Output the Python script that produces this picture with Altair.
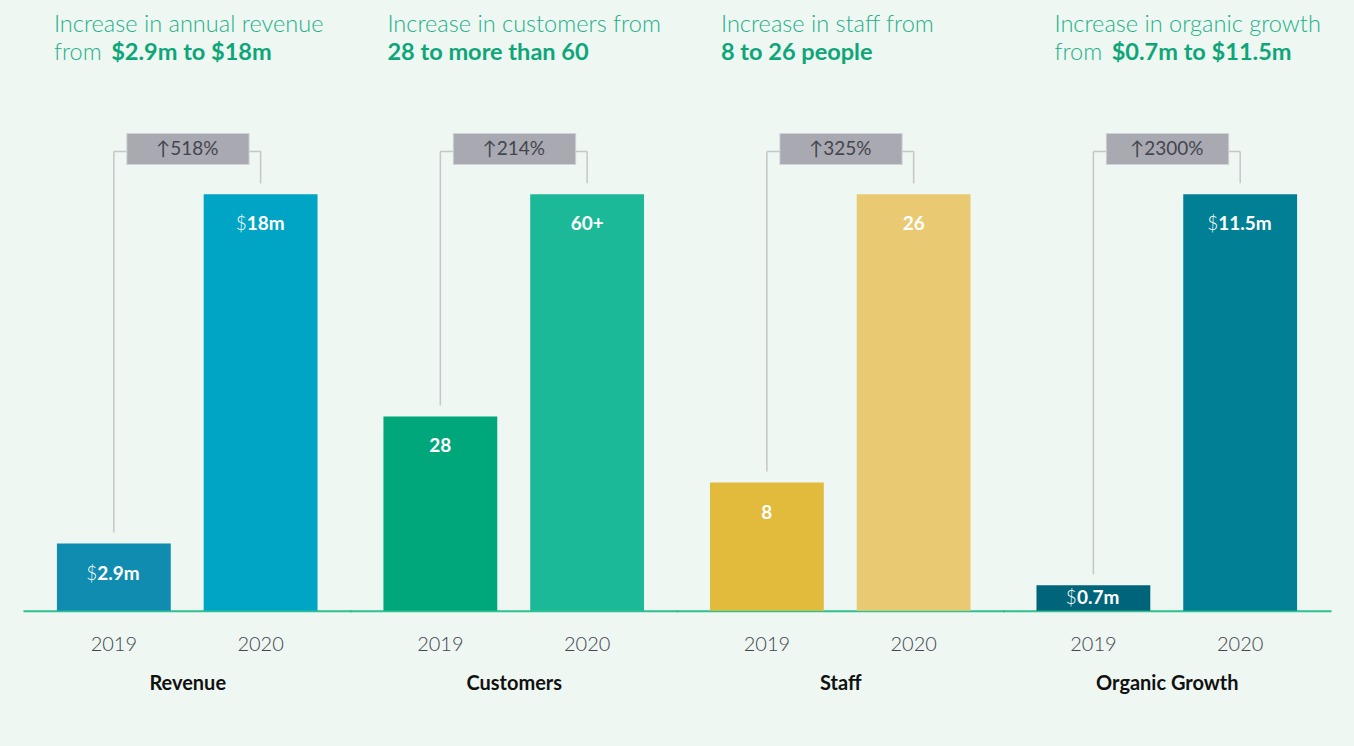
import altair as alt
import pandas as pd

# ---- data -------------------------------------------------------------
groups = ["Revenue", "Customers", "Staff", "Organic Growth"]
years = ["2019", "2020"]
values_2019 = [2.9, 28, 8, 0.7]
values_2020 = [18, 60, 26, 11.5]
value_prefix = ["$", "", "", "$"]
labels_2019 = ["2.9m", "28", "8", "0.7m"]
labels_2020 = ["18m", "60+", "26", "11.5m"]
changes = ["↑518%", "↑214%", "↑325%", "↑2300%"]
headline_top = [
    "Increase in annual revenue",
    "Increase in customers from",
    "Increase in staff from",
    "Increase in organic growth",
]
headline_lead = ["from", "", "", "from"]
headline_bold = ["$2.9m to $18m", "28 to more than 60", "8 to 26 people", "$0.7m to $11.5m"]

# ---- styling ----------------------------------------------------------
palettes = [
    ["#0f8caf", "#00a4c4"],
    ["#00a77b", "#1bb998"],
    ["#e2bb3c", "#e9ca72"],
    ["#00657b", "#007f95"],
]
FONT = "Lato"
BG = "#eef7f2"
GREEN_TEXT = "#25b089"
GREEN_BOLD = "#0ea679"
BRACKET = "#c6c6c8"
BOX = "#a9a9b1"
BOX_EDGE = "#d2d2d6"
PANEL_W = 327
PLOT_H = 542
Y_MAX = 1.3
HEAD_SIZE = 23.6

# rough glyph advance widths (em) used to centre mixed-weight value labels
ADV = {".": 0.27, "m": 0.87, "+": 0.58, "$": 0.56}


def text_width(s, size):
    return sum(ADV.get(c, 0.58) for c in s) * size


def panel(i):
    df = pd.DataFrame({
        "year": years,
        "value": [values_2019[i], values_2020[i]],
        "prefix": [value_prefix[i]] * 2,
        "label": [labels_2019[i], labels_2020[i]],
    })
    base = (
        alt.Chart(df)
        .transform_joinaggregate(peak="max(value)")
        .transform_calculate(norm="datum.value / datum.peak")
        .transform_joinaggregate(top="max(norm)")
        .transform_calculate(label_y="max(datum.norm - 0.072, datum.norm / 2)")
    )
    xscale = alt.Scale(domain=years, paddingInner=0.2245, paddingOuter=0.2245)
    yscale = alt.Scale(domain=[0, Y_MAX])
    x_axis = alt.Axis(
        title=groups[i], titleFont=FONT, titleFontSize=20, titleFontWeight="bold",
        titleColor="#111111", titlePadding=19,
        labelFont=FONT, labelFontSize=20, labelFontWeight=300, labelColor="#45454f",
        labelPadding=24, labelAngle=0, ticks=False, grid=False,
        domainColor="#2ec08f", domainWidth=2, domainCap="square",
    )
    x = alt.X("year:N")
    y_norm = alt.Y("norm:Q", axis=None)
    y_top = alt.Y("top:Q", axis=None)

    bars = base.mark_bar().encode(
        x=alt.X("year:N", scale=xscale, axis=x_axis),
        y=alt.Y("norm:Q", scale=yscale, axis=None),
        color=alt.Color("year:N", scale=alt.Scale(domain=years, range=palettes[i]), legend=None),
    )

    # bracket: two risers and a cross-bar carrying the change label box
    risers = base.mark_rule(color=BRACKET, strokeWidth=1.5, yOffset=-11, y2Offset=-43).encode(
        x=x, y=y_norm, y2="top:Q",
    )
    first = base.transform_filter(alt.datum.year == years[0]).transform_calculate(
        next_year=f"'{years[1]}'", change=f"'{changes[i]}'"
    )
    crossbar = first.mark_rule(color=BRACKET, strokeWidth=1.5, yOffset=-43).encode(
        x=x, x2="next_year:N", y=y_top,
    )
    box_edge = first.mark_rule(color=BOX_EDGE, strokeWidth=32, strokeCap="butt",
                               xOffset=12.5, x2Offset=-11, yOffset=-45.5).encode(
        x=x, x2="next_year:N", y=y_top,
    )
    box = first.mark_rule(color=BOX, strokeWidth=30, strokeCap="butt",
                          xOffset=13.5, x2Offset=-12, yOffset=-45.5).encode(
        x=x, x2="next_year:N", y=y_top,
    )
    box_text = first.mark_text(font=FONT, fontSize=19, color="#45454f", dx=73.5, dy=-45.5,
                               baseline="middle").encode(
        x=x, y=y_top, text="change:N",
    )

    layers = [bars, risers, crossbar, box_edge, box, box_text]

    # value labels inside the bars: light currency sign + bold figure
    size = 19
    for yr, lab in zip(years, [labels_2019[i], labels_2020[i]]):
        row = base.transform_filter(alt.datum.year == yr)
        enc = dict(x=x, y=alt.Y("label_y:Q", axis=None))
        if value_prefix[i]:
            shift = (text_width(value_prefix[i], size) - text_width(lab, size)) / 2
            layers.append(row.mark_text(font=FONT, fontSize=size, fontWeight=300, color="white",
                                        align="right", baseline="middle", dx=shift)
                          .encode(text="prefix:N", **enc))
            layers.append(row.mark_text(font=FONT, fontSize=size, fontWeight="bold", color="white",
                                        align="left", baseline="middle", dx=shift)
                          .encode(text="label:N", **enc))
        else:
            layers.append(row.mark_text(font=FONT, fontSize=size, fontWeight="bold", color="white",
                                        align="center", baseline="middle")
                          .encode(text="label:N", **enc))

    # second headline line: light lead word, then the bold figures after it
    # (a zero-width space keeps the no-break spaces from being trimmed)
    pad = "\u200b" + "\u00a0" * 10 if headline_lead[i] else ""
    title = alt.TitleParams(
        text=[headline_top[i], headline_lead[i]],
        subtitle=pad + headline_bold[i],
        anchor="start", dx=30 + 7 * i, offset=5,
        font=FONT, fontSize=HEAD_SIZE, fontWeight=300, color=GREEN_TEXT, lineHeight=28,
        subtitleFont=FONT, subtitleFontSize=HEAD_SIZE, subtitleFontWeight="bold",
        subtitleColor=GREEN_BOLD, subtitlePadding=-HEAD_SIZE,
    )
    return alt.layer(*layers).properties(width=PANEL_W, height=PLOT_H, title=title)


chart = (
    alt.hconcat(*[panel(i) for i in range(len(groups))], spacing=0)
    .resolve_scale(color="independent")
    .configure(background=BG, padding={"left": 24, "top": 12, "right": 24, "bottom": 62})
    .configure_view(stroke=None)
)

chart.save("out.html", embed_options={"renderer": "svg", "actions": False})
